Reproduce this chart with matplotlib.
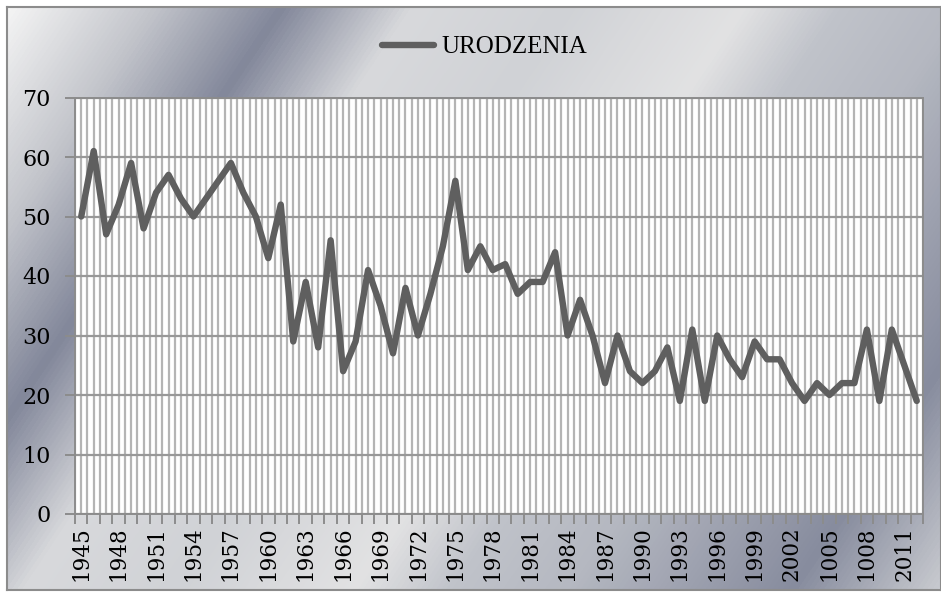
import matplotlib
matplotlib.use("Agg")
import matplotlib.pyplot as plt
import numpy as np
from matplotlib.colors import LinearSegmentedColormap

years = list(range(1945, 2013))
urodzenia = [50, 61, 47, 52, 59, 48, 54, 57, 53, 50,
             53, 56, 59, 54, 50, 43, 52, 29, 39, 28,
             46, 24, 29, 41, 35, 27, 38, 30, 37, 45,
             56, 41, 45, 41, 42, 37, 39, 39, 44, 30,
             36, 30, 22, 30, 24, 22, 24, 28, 19, 31,
             19, 30, 26, 23, 29, 26, 26, 22, 19, 22,
             20, 22, 22, 31, 19, 31, 25, 19]
# labels as printed in the original (including its typos)
tick_labels = ["1945", "1948", "1951", "1954", "1957", "1960", "1963", "1966",
               "1969", "1972", "1975", "1978", "1981", "1984", "1987", "1990",
               "1993", "1996", "1999", "2002", "1005", "1008", "2011"]
yticks = [0, 10, 20, 30, 40, 50, 60, 70]

W, H = 941, 597
fig = plt.figure(figsize=(W / 100, H / 100), dpi=100)
fig.patch.set_facecolor("white")

# metallic gradient background inside the chart border
bg = fig.add_axes([7 / W, 7 / H, (W - 7) / W, (H - 14) / H], zorder=-5)
xx, yy = np.meshgrid(np.arange(W), np.arange(H))
t = (0.835 * xx + 0.549 * yy) / 1114.0
stops = [(0.0, "#f4f4f4"), (120 / 1114, "#c3c5cb"), (230 / 1114, "#82879a"),
         (340 / 1114, "#d8d9dc"), (470 / 1114, "#d0d2d6"), (620 / 1114, "#e2e2e3"),
         (700 / 1114, "#c0c3ca"), (800 / 1114, "#b5b8c1"), (990 / 1114, "#878c9e"),
         (1.0, "#c9cbd0")]
cmap = LinearSegmentedColormap.from_list("metal", stops)
bg.imshow(t, cmap=cmap, aspect="auto", vmin=0, vmax=1)
bg.set_xticks([])
bg.set_yticks([])
for s in bg.spines.values():
    s.set_color("#8c8c8c")
    s.set_linewidth(1.5)

ax = fig.add_axes([75 / W, 83 / H, 848 / W, 416.5 / H])
ax.set_facecolor("white")
idx = np.arange(len(years))

ax.set_xlim(-0.5, len(years) - 0.5)
ax.set_ylim(0, 70)

# vertical gridlines at year centres and boundaries
ax.vlines(idx, 0, 70, colors="#b4b4b4", linewidth=1.6, zorder=1)
ax.set_xticks(np.arange(-0.5, len(years), 1.0), minor=True)
ax.grid(True, which="minor", axis="x", color="#b4b4b4", linewidth=1.6, zorder=1)
ax.set_yticks(yticks)
ax.grid(True, which="major", axis="y", color="#989898", linewidth=1.6, zorder=2)

ax.set_xticks(idx[::3])
ax.set_xticklabels(tick_labels, rotation=90, family="DejaVu Serif", fontsize=15.5)
ax.set_yticklabels([str(v) for v in yticks], family="DejaVu Serif", fontsize=16)
ax.tick_params(axis="x", which="major", length=0, pad=9)
ax.tick_params(axis="x", which="minor", length=7, color="#8c8c8c", width=1.4)
ax.tick_params(axis="y", length=7, color="#8c8c8c", width=1.4, pad=10.5)

ax.plot(idx, urodzenia, color="#5f5f5f", linewidth=4.6, solid_joinstyle="round",
        solid_capstyle="round", label="URODZENIA", zorder=5)

for s in ax.spines.values():
    s.set_color("#8c8c8c")
    s.set_linewidth(1.4)

leg = fig.legend(loc="center", bbox_to_anchor=(0.515, 0.921), frameon=False,
                 prop={"family": "Liberation Serif", "size": 18},
                 handlelength=2.1, handletextpad=0.3)

fig.savefig("out.png", dpi=100)
